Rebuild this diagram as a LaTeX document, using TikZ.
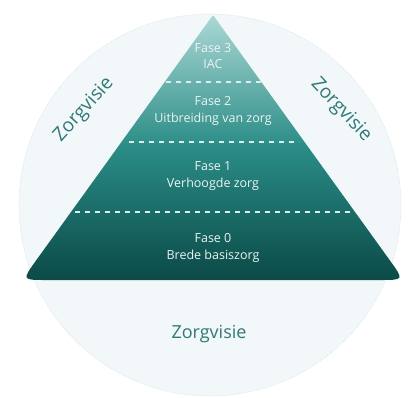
\documentclass[tikz,border=0pt]{standalone}
\usepackage{fontspec}
\setmainfont{Open Sans}
\usepackage{tikz}
\usetikzlibrary{positioning,calc}
\definecolor{cring}{HTML}{F2F7F9}
\definecolor{cedge}{HTML}{D3E1E6}
\definecolor{ctop}{HTML}{ACD8D5}
\definecolor{cmid}{HTML}{2A8C86}
\definecolor{cbot}{HTML}{0B4A47}
\definecolor{cvis}{HTML}{2E7A77}
\definecolor{cdash}{HTML}{D7EEEC}
\tikzset{
  fase/.style={font=\fontsize{12.5}{16.5}\selectfont, text=white!90!cmid, align=center, inner sep=0pt},
  visie/.style={font=\fontsize{19}{22}\selectfont, text=cvis, inner sep=0pt},
  split/.style={draw=cdash, line width=1.3pt, dash pattern=on 5pt off 5pt},
}
\begin{document}
\begin{tikzpicture}[x=1pt,y=-1pt]
\useasboundingbox (0,0) rectangle (410,397);
% ---------------- outer circle
\draw[fill=cring, draw=cedge, densely dotted, line width=0.6pt] (210,205) circle[radius=191];
% ---------------- pyramid
\coordinate (top) at (213,15);
\coordinate (br) at (404,280);
\coordinate (bl) at (22,280);
\shade[top color=ctop, bottom color=cbot, middle color=cmid]
  ($(br)!24pt!(bl)$) .. controls (br) .. ($(br)!24pt!(top)$)
  -- ($(top)!3pt!(br)$) .. controls (top) .. ($(top)!3pt!(bl)$)
  -- ($(bl)!24pt!(top)$) .. controls (bl) .. ($(bl)!24pt!(br)$) -- cycle;
% ---------------- phase borders
\draw[split] (166,82) -- (262,82);
\draw[split] (129,142) -- (299,142);
\draw[split] (75,212) -- (351,212);
% ---------------- phases
\node[fase] (f3) at (213,56) {Fase 3\\IAC};
\node[fase] (f2) at (213,111) {Fase 2\\Uitbreiding van zorg};
\node[fase] (f1) at (213,176) {Fase 1\\Verhoogde zorg};
\node[fase] (f0) at (213,248) {Fase 0\\Brede basiszorg};
% ---------------- vision labels
\node[visie, rotate=48] (vl) at (84,110) {Zorgvisie};
\node[visie, rotate=-47] (vr) at (341,110) {Zorgvisie};
\node[visie, font=\fontsize{18}{22}\selectfont] (vb) at (209,334) {Zorgvisie};
\end{tikzpicture}
\end{document}
